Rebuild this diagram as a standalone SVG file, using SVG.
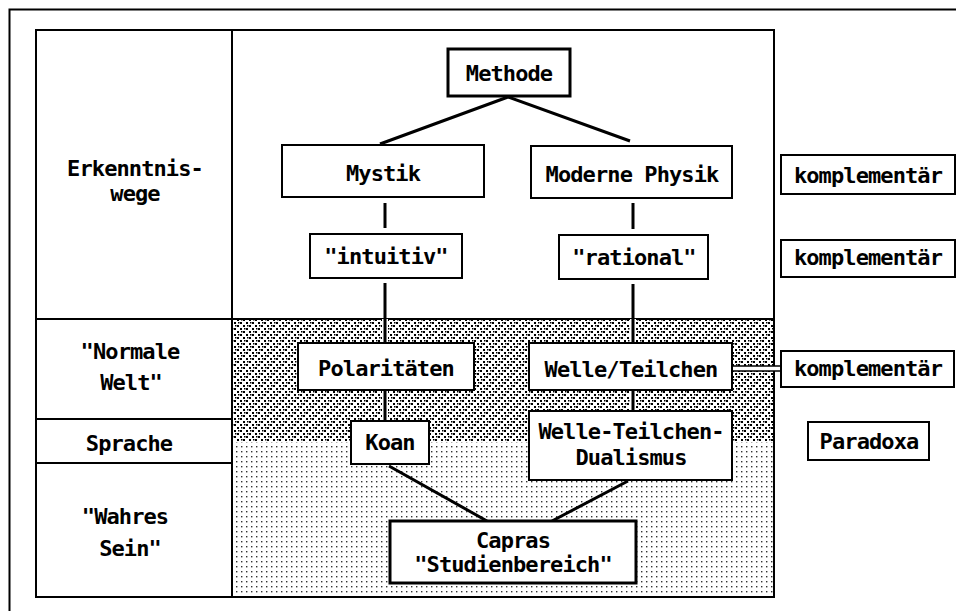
<svg xmlns="http://www.w3.org/2000/svg" width="956" height="611" viewBox="0 0 956 611">
<defs>
<pattern id="dense" width="12" height="12" patternUnits="userSpaceOnUse">
<rect width="12" height="12" fill="#fff"/>
<rect x="0" y="10" width="2" height="2" fill="#000"/>
<rect x="3" y="7" width="2" height="2" fill="#000"/>
<rect x="6" y="4" width="2" height="2" fill="#000"/>
<rect x="9" y="1" width="2" height="2" fill="#000"/>
<rect x="0" y="4" width="2" height="2" fill="#000"/>
<rect x="3" y="1" width="2" height="2" fill="#000"/>
<rect x="6" y="10" width="2" height="2" fill="#000"/>
<rect x="9" y="7" width="2" height="2" fill="#000"/>
<rect x="1" y="7" width="1.5" height="1.5" fill="#000"/>
<rect x="7" y="1" width="1.5" height="1.5" fill="#000"/>
<rect x="4" y="4" width="1.5" height="1.5" fill="#000"/>
<rect x="10" y="10" width="1.5" height="1.5" fill="#000"/>
</pattern>
<pattern id="light" width="5" height="5" patternUnits="userSpaceOnUse">
<rect width="5" height="5" fill="#fff"/>
<rect x="1" y="1" width="1.4" height="1.4" fill="#333"/>
</pattern>
<style>
.t{font-family:"DejaVu Sans Mono","Liberation Mono",monospace;font-weight:bold;font-size:22px;letter-spacing:-0.9px;fill:#000;text-anchor:middle}
.b{fill:#fff;stroke:#000;stroke-width:2}
.bb{fill:#fff;stroke:#000;stroke-width:3}
.c{stroke:#000;stroke-width:3;fill:none}
.g{stroke:#fff;stroke-width:6;fill:none}
.f{stroke:#000;stroke-width:2;fill:none}
</style>
</defs>
<rect width="956" height="611" fill="#fff"/>
<g id="frame">
<path class="f" d="M9.5,611 V9.5 H956"/>
</g>
<g id="table">
<rect x="232" y="319" width="542" height="123" fill="url(#dense)"/>
<rect x="232" y="442" width="542" height="155" fill="url(#light)"/>
<rect x="36" y="30" width="738" height="567" class="f"/>
<path class="f" d="M232,30 V597 M36,319 H774 M36,419 H232 M36,463 H232"/>
<text class="t" x="135" y="176">Erkenntnis-</text>
<text class="t" x="135" y="201">wege</text>
<text class="t" x="130" y="359">"Normale</text>
<text class="t" x="131" y="390">Welt"</text>
<text class="t" x="129" y="451">Sprache</text>
<text class="t" x="125" y="524">"Wahres</text>
<text class="t" x="130" y="556">Sein"</text>
</g>
<g id="connectors">
<path class="g" d="M385,319 V343 M385,390 V421 M633,319 V343 M633,390 V411"/>
<path class="c" d="M508,97 L380,144 M508,97 L630,141 M385,203 V228 M633,203 V229 M385,283 V343 M633,284 V343 M385,390 V421 M633,390 V411 M389,466 L487,521 M628,481 L552,521"/>
<rect x="732" y="366" width="49" height="5" fill="#fff" stroke="#000" stroke-width="1.5"/>
</g>
<g id="methode"><rect class="bb" x="448" y="49" width="122" height="47"/><text class="t" x="509" y="81">Methode</text></g>
<g id="mystik"><rect class="b" x="282" y="145" width="202" height="52"/><text class="t" x="383" y="181">Mystik</text></g>
<g id="physik"><rect class="b" x="531" y="146" width="201" height="52"/><text class="t" x="632" y="182">Moderne Physik</text></g>
<g id="intuitiv"><rect class="b" x="310" y="234" width="152" height="44"/><text class="t" x="386" y="264">"intuitiv"</text></g>
<g id="rational"><rect class="b" x="559" y="235" width="149" height="44"/><text class="t" x="634" y="265">"rational"</text></g>
<g id="komp1"><rect class="b" x="781" y="155" width="174" height="39"/><text class="t" x="868" y="183">komplementär</text></g>
<g id="komp2"><rect class="b" x="781" y="240" width="174" height="37"/><text class="t" x="868" y="265">komplementär</text></g>
<g id="polaritaeten"><rect class="b" x="298" y="343" width="176" height="47"/><text class="t" x="386" y="376">Polaritäten</text></g>
<g id="welleteilchen"><rect class="b" x="529" y="343" width="203" height="47"/><text class="t" x="631" y="377">Welle/Teilchen</text></g>
<g id="komp3"><rect class="b" x="781" y="351" width="173" height="36"/><text class="t" x="868" y="376">komplementär</text></g>
<g id="koan"><rect class="b" x="351" y="421" width="78" height="43"/><text class="t" x="390" y="450">Koan</text></g>
<g id="dualismus"><rect class="b" x="529" y="411" width="203" height="69"/><text class="t" x="631" y="439">Welle-Teilchen-</text><text class="t" x="631" y="465">Dualismus</text></g>
<g id="paradoxa"><rect class="b" x="808" y="422" width="121" height="38"/><text class="t" x="869" y="449">Paradoxa</text></g>
<g id="capras"><rect class="bb" x="390" y="521" width="246" height="62"/><text class="t" x="513" y="548">Capras</text><text class="t" x="513" y="572">"Studienbereich"</text></g>
</svg>
